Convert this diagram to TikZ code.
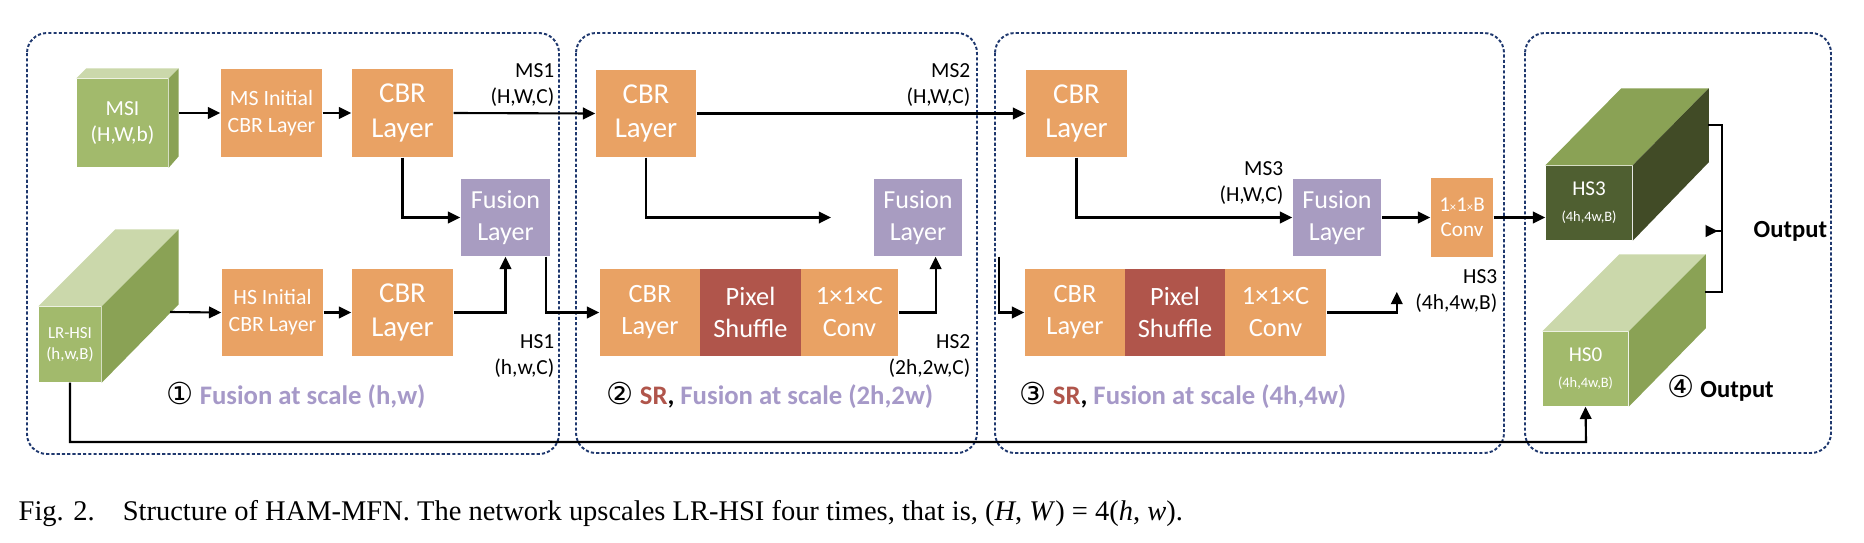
\documentclass[tikz,border=0pt]{standalone}
\usepackage{fontspec}
\setmainfont{Carlito}
\newfontfamily\capfont{Liberation Serif}
\newfontfamily\circfont{DejaVu Sans}
\usetikzlibrary{arrows.meta}
\definecolor{org}{RGB}{233,162,100}
\definecolor{psred}{RGB}{176,85,75}
\definecolor{fus}{RGB}{168,156,193}
\definecolor{fustxt}{RGB}{166,153,200}
\definecolor{gfront}{RGB}{162,186,108}
\definecolor{gtop}{RGB}{203,216,171}
\definecolor{gside}{RGB}{138,162,85}
\definecolor{dfront}{RGB}{79,95,49}
\definecolor{dside}{RGB}{65,75,38}
\definecolor{navy}{RGB}{31,56,110}
\begin{document}
\begin{tikzpicture}[x=0.01cm,y=-0.01cm,
  blk/.style={inner sep=0pt, align=center, text=white},
  obox/.style={blk, fill=org},
  fbox/.style={blk, fill=fus, font=\fontsize{7.4}{9.1}\selectfont},
  rbox/.style={blk, fill=psred},
  fbig/.style={font=\fontsize{8.2}{9.7}\selectfont},
  fmid/.style={font=\fontsize{7.5}{9.1}\selectfont},
  fsmall/.style={font=\fontsize{6.2}{7.7}\selectfont},
  cubetxt/.style={blk, font=\fontsize{6}{7.4}\selectfont},
  lbl/.style={align=right, anchor=east, inner sep=0pt, font=\fontsize{6.1}{7.4}\selectfont},
  scl/.style={anchor=west, inner sep=0pt, font=\bfseries\fontsize{7.6}{8.5}\selectfont},
  con/.style={line width=0.6pt, -{Triangle[length=3.5pt,width=3.3pt]}},
  wire/.style={line width=0.6pt},
  grp/.style={draw=navy, line width=0.55pt, dash pattern=on 0.9pt off 0.6pt, rounded corners=0.2cm}]
\useasboundingbox (0,0) rectangle (1864,542);
% group frames
\draw[grp] (27,33) rectangle (559,454);
\draw[grp] (576,33) rectangle (977,453);
\draw[grp] (995,33) rectangle (1504,453);
\draw[grp] (1525,33) rectangle (1831,453);
% cubes: front faces with top and side faces
\node[blk, fill=gfront, minimum width=0.91cm, minimum height=0.88cm, font=\fontsize{6.1}{7.6}\selectfont] (msi) at (122.5,123) {MSI\\(H,W,b)};
\fill[gtop] (msi.north west) -- (msi.north east) -- ++(10,-10) -- ([shift={(10,-10)}]msi.north west) -- cycle;
\fill[gside] (msi.north east) -- ++(10,-10) -- ++(0,88) -- (msi.south east) -- cycle;
\node[blk, fill=gfront, minimum width=0.62cm, minimum height=0.75cm, font=\fontsize{4.8}{6}\selectfont] (lr) at (70,344.5) {LR-HSI\\(h,w,B)};
\fill[gtop] (lr.north west) -- (lr.north east) -- ++(77,-77) -- ([shift={(77,-77)}]lr.north west) -- cycle;
\fill[gside] (lr.north east) -- ++(77,-77) -- ++(0,75) -- (lr.south east) -- cycle;
\node[cubetxt, fill=dfront, minimum width=0.86cm, minimum height=0.74cm] (hs3) at (1589,203) {HS3\\{\fontsize{4.1}{5}\selectfont (4h,4w,B)}};
\fill[gside] (hs3.north west) -- (hs3.north east) -- ++(76,-77) -- ([shift={(76,-77)}]hs3.north west) -- cycle;
\fill[dside] (hs3.north east) -- ++(76,-77) -- ++(0,74) -- (hs3.south east) -- cycle;
\node[cubetxt, fill=gfront, minimum width=0.85cm, minimum height=0.74cm] (hs0) at (1585.5,369) {HS0\\{\fontsize{4.1}{5}\selectfont (4h,4w,B)}};
\fill[gtop] (hs0.north west) -- (hs0.north east) -- ++(77,-77) -- ([shift={(77,-77)}]hs0.north west) -- cycle;
\fill[gside] (hs0.north east) -- ++(77,-77) -- ++(0,74) -- (hs0.south east) -- cycle;
\coordinate (msiR) at ([shift={(10,-10)}]msi.east);
\coordinate (lrR) at (170,312);
\coordinate (lrB) at (lr.south);
\coordinate (hs3R) at (1708,125);
\coordinate (hs0R) at (1705,292);
\coordinate (outJ) at (1722,231);
% scale 1
\node[obox, fsmall, minimum width=1.01cm, minimum height=0.88cm] (msinit) at (271.5,113) {MS Initial\\CBR Layer};
\node[obox, fbig, minimum width=1.01cm, minimum height=0.88cm] (cbr1) at (402.5,113) {CBR\\Layer};
\node[fbox, minimum width=0.89cm, minimum height=0.77cm] (fus1) at (505.5,217.5) {Fusion\\Layer};
\node[obox, fsmall, minimum width=1.01cm, minimum height=0.87cm] (hsinit) at (272.5,312.5) {HS Initial\\CBR Layer};
\node[obox, fbig, minimum width=1.01cm, minimum height=0.87cm] (cbr1b) at (402.5,312.5) {CBR\\Layer};
% scale 2
\node[obox, fbig, minimum width=1.00cm, minimum height=0.87cm] (cbr2) at (646,113.5) {CBR\\Layer};
\node[fbox, minimum width=0.88cm, minimum height=0.77cm] (fus2) at (918,217.5) {Fusion\\Layer};
\node[obox, fmid, minimum width=1.00cm, minimum height=0.87cm] (cbr2b) at (650,312.5) {CBR\\Layer};
\node[rbox, fmid, minimum width=1.01cm, minimum height=0.87cm] (ps2) at (750.5,312.5) {Pixel\\Shuffle};
\node[obox, fmid, minimum width=0.97cm, minimum height=0.87cm] (cv2) at (849.5,312.5) {1×1×C\\Conv};
% scale 3
\node[obox, fbig, minimum width=1.01cm, minimum height=0.87cm] (cbr3) at (1076.5,113.5) {CBR\\Layer};
\node[fbox, minimum width=0.88cm, minimum height=0.77cm] (fus3) at (1337,217.5) {Fusion\\Layer};
\node[obox, fmid, minimum width=1.00cm, minimum height=0.87cm] (cbr3b) at (1075,312.5) {CBR\\Layer};
\node[rbox, fmid, minimum width=1.00cm, minimum height=0.87cm] (ps3) at (1175,312.5) {Pixel\\Shuffle};
\node[obox, fmid, minimum width=1.01cm, minimum height=0.87cm] (cv3) at (1275.5,312.5) {1×1×C\\Conv};
\node[obox, minimum width=0.62cm, minimum height=0.78cm, font=\fontsize{6}{7.1}\selectfont] (cvb) at (1462,217.5) {1{\fontsize{3.6}{4}\selectfont ×}1{\fontsize{3.6}{4}\selectfont ×}B\\Conv};
% labels
\node[lbl] (ms1) at (555,85) {MS1\\(H,W,C)};
\node[lbl] (hs1) at (555,356) {HS1\\(h,w,C)};
\node[lbl] (ms2) at (971,85) {MS2\\(H,W,C)};
\node[lbl] (hs2) at (971,356) {HS2\\(2h,2w,C)};
\node[lbl] (ms3) at (1284,183) {MS3\\(H,W,C)};
\node[lbl] (hs3l) at (1498,291) {HS3\\(4h,4w,B)};
\node[scl] (s1) at (166,395) {{\circfont\mdseries\fontsize{8.6}{9}\selectfont ①} \textcolor{fustxt}{Fusion at scale (h,w)}};
\node[scl] (s2) at (606,395) {{\circfont\mdseries\fontsize{8.6}{9}\selectfont ②} \textcolor{psred}{SR}, \textcolor{fustxt}{Fusion at scale (2h,2w)}};
\node[scl] (s3) at (1019,395) {{\circfont\mdseries\fontsize{8.6}{9}\selectfont ③} \textcolor{psred}{SR}, \textcolor{fustxt}{Fusion at scale (4h,4w)}};
\node[scl, font=\bfseries\fontsize{7}{8}\selectfont] (s4) at (1667,388) {{\circfont\mdseries\fontsize{8.6}{9}\selectfont ④} Output};
\node[scl, font=\bfseries\fontsize{7}{8}\selectfont] (out) at (1753,231) {Output};
% connectors
\draw[con] (msiR) -- (msinit.west);
\draw[con] (msinit) -- (cbr1);
\draw[con] (cbr1.east) -- (cbr2.west);
\draw[con] (cbr1.south) |- (fus1.west);
\draw[con] (lrR) -- (hsinit.west);
\draw[con] (hsinit) -- (cbr1b);
\draw[con] (cbr1b.east) -| (fus1.south);
\draw[con] ([xshift=11.5]fus1.south) |- (cbr2b.west);
\draw[con] (cbr2.east) -- (cbr3.west);
\draw[con, shorten >=12] (cbr2.south) |- (fus2.west);
\draw[con] (cv2.east) -| ([xshift=5]fus2.south);
\draw[con] ([xshift=23]fus2.south) |- (cbr3b.west);
\draw[con] (cbr3.south) |- (fus3.west);
\draw[con, shorten >=10] (cv3.east) -| ([xshift=17]fus3.south);
\draw[con] (fus3) -- (cvb);
\draw[con] (cvb.east) -- (cvb.east -| hs3.west);
\draw[con] (lrB) |- (1586,442) -- (hs0.south);
\draw[wire] (hs3R) -| (outJ) |- (hs0R);
\draw[con, shorten >=10] (outJ) -- (out.west);
% caption
\node[anchor=base west, inner sep=0pt, font=\capfont\fontsize{8.1}{9.6}\selectfont] (cap) at (18,520) {Fig. 2.\hspace{8pt}Structure of HAM-MFN. The network upscales LR-HSI four times, that is, (\textit{H}, \textit{W}) = 4(\textit{h}, \textit{w}).};
\end{tikzpicture}
\end{document}
